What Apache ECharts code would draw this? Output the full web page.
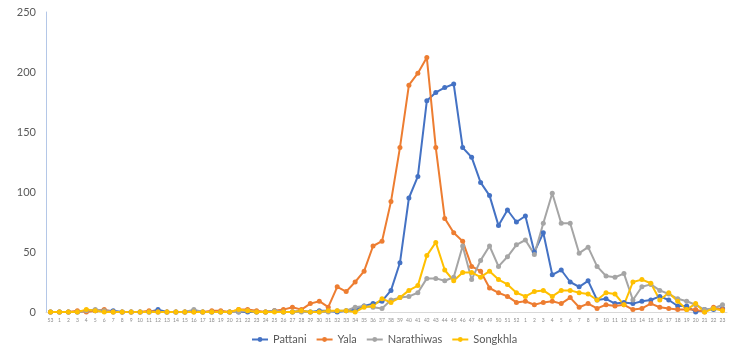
<!DOCTYPE html>
<html>
<head>
<meta charset="utf-8">
<script src="https://cdn.jsdelivr.net/npm/echarts@6/dist/echarts.min.js"></script>
<style>
    html, body { margin: 0; padding: 0; background: #fff; }
    #myCharts { width: 731px; height: 354px; }
</style>
</head>
<body>
<div id="myCharts"></div>
<script>
    // week numbers: 53 (2020), 1-52, then 1-23
    var weeks = ['53'];
    for (var w = 1; w <= 52; w++) weeks.push(String(w));
    for (var w2 = 1; w2 <= 23; w2++) weeks.push(String(w2));

    var pattani = [0,0,0,0,1,1,1,1,0,0,0,0,2,0,0,0,1,0,0,0,0,0,0,0,0,1,0,0,1,0,
        1,1,0,1,2,5,7,9,18,41,95,113,176,183,187,190,137,129,108,97,72,85,75,80,50,66,31,35,25,21,
        26,10,11,7,8,7,9,10,13,10,5,5,0,2,2,3];
    var yala = [0,0,0,1,0,1,2,0,0,0,0,1,0,0,0,0,0,0,1,1,0,2,2,1,0,1,2,4,2,7,
        9,4,21,17,25,34,55,59,92,137,189,199,212,137,78,66,59,38,34,20,16,13,8,9,6,8,9,7,12,4,
        7,3,6,5,6,2,3,7,4,3,2,2,2,0,4,2];
    var narathiwas = [0,0,0,0,1,2,1,0,0,0,0,0,0,0,0,0,2,0,0,0,0,0,1,0,0,1,0,0,0,0,
        0,0,1,1,4,5,4,3,10,12,13,16,28,28,26,29,55,27,43,55,38,46,56,60,48,74,99,74,74,49,
        54,38,30,29,32,10,21,23,18,15,11,9,6,2,3,6];
    var songkhla = [0,0,0,0,2,1,0,0,0,0,0,0,0,0,0,0,0,0,0,0,0,2,1,0,0,0,0,0,1,0,
        0,1,1,1,0,4,5,11,8,12,18,22,47,58,35,26,33,33,29,34,27,23,16,13,17,18,13,18,18,16,
        15,10,16,15,6,25,27,24,10,16,9,2,7,0,3,1];

    var names = ['Pattani', 'Yala', 'Narathiwas', 'Songkhla'];
    var colors = ['#4472C4', '#ED7D31', '#A5A5A5', '#FFC000'];
    var values = [pattani, yala, narathiwas, songkhla];

    var myCharts = echarts.init(document.getElementById('myCharts'));
    var series = [];
    for (var i = 0; i < names.length; i++) {
        series.push({
            name: names[i],
            type: 'line',
            symbol: 'circle',
            symbolSize: 5,
            animation: false,
            lineStyle: { color: colors[i], width: 2 },
            itemStyle: { color: colors[i] },
            data: values[i]
        });
    }
    var options = {
        textStyle: { fontFamily: 'Lato' },
        grid: { left: 46, right: 4, top: 12, bottom: 42 },
        legend: {
            bottom: 4,
            left: 246,
            itemWidth: 16,
            itemHeight: 6,
            itemGap: 9,
            textStyle: { color: '#595959', fontSize: 11 },
            data: names
        },
        xAxis: {
            type: 'category',
            boundaryGap: true,
            data: weeks,
            axisLine: { lineStyle: { color: '#D9D9D9' } },
            axisTick: { show: false },
            axisLabel: { interval: 0, fontSize: 5, color: '#8c8c8c', margin: 6 }
        },
        yAxis: {
            type: 'value',
            min: 0,
            max: 250,
            interval: 50,
            axisLine: { show: true, lineStyle: { color: '#B4C7E7' } },
            splitLine: { show: false },
            axisLabel: { color: '#595959', fontSize: 11, margin: 10 }
        },
        series: series
    };
    myCharts.setOption(options);
</script>
</body>
</html>
